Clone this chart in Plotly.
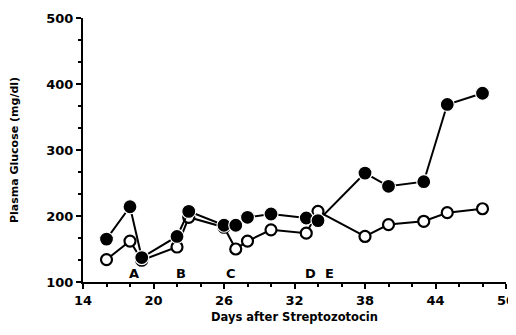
import plotly.graph_objects as go

# Data
days = [16, 18, 19, 22, 23, 26, 27, 28, 30, 33, 34, 38, 40, 43, 45, 48]
glucose_filled = [165, 214, 137, 169, 207, 186, 186, 198, 203, 197, 193, 265, 245, 252, 369, 386]
glucose_open = [134, 162, 133, 153, 198, 183, 150, 162, 179, 174, 207, 169, 187, 192, 205, 211]

event_labels = ["A", "B", "C", "D", "E"]
event_days = [18.3, 22.3, 26.6, 33.4, 35.0]
event_level = 113

x_ticks = [14, 20, 26, 32, 38, 44, 50]
y_ticks = [100, 200, 300, 400, 500]

FONT = "DejaVu Sans"
BLACK = "#000000"

fig = go.Figure()

fig.add_trace(go.Scatter(
    x=days, y=glucose_open, mode="lines+markers",
    line=dict(color=BLACK, width=2),
    marker=dict(symbol="circle", size=11, color="white",
                line=dict(color=BLACK, width=2.2)),
    showlegend=False,
))
fig.add_trace(go.Scatter(
    x=days, y=glucose_filled, mode="lines+markers",
    line=dict(color=BLACK, width=2),
    marker=dict(symbol="circle", size=14, color=BLACK,
                line=dict(color="white", width=1.2)),
    showlegend=False,
))

for lab, xd in zip(event_labels, event_days):
    fig.add_annotation(x=xd, y=event_level, text=lab, showarrow=False,
                       font=dict(family=FONT, size=13, color=BLACK, weight="bold"))

fig.update_layout(
    width=516, height=335,
    margin=dict(l=75, r=17.5, t=9.5, b=60.5),
    paper_bgcolor="white", plot_bgcolor="white",
    font=dict(family=FONT, color=BLACK, weight="bold"),
    xaxis=dict(
        range=[14, 50], tickvals=x_ticks, ticktext=[str(v) for v in x_ticks],
        automargin=False, ticklabeloverflow="allow",
        showgrid=False, zeroline=False,
        showline=True, linecolor=BLACK, linewidth=2,
        ticks="outside", ticklen=5, tickwidth=2, tickcolor=BLACK,
        minor=dict(dtick=2, tick0=14, ticks="outside", ticklen=3, tickwidth=2,
                   tickcolor=BLACK, showgrid=False),
        tickfont=dict(family=FONT, size=13, color=BLACK, weight="bold"),
        title=dict(text="Days after Streptozotocin", standoff=6,
                   font=dict(family=FONT, size=11.5, color=BLACK, weight="bold")),
    ),
    yaxis=dict(
        range=[100, 500], tickvals=y_ticks, ticktext=[str(v) for v in y_ticks],
        automargin=False,
        showgrid=False, zeroline=False,
        showline=True, linecolor=BLACK, linewidth=2,
        ticks="outside", ticklen=5, tickwidth=2, tickcolor=BLACK,
        minor=dict(dtick=100/3, tick0=100, ticks="outside", ticklen=3, tickwidth=2,
                   tickcolor=BLACK, showgrid=False),
        tickfont=dict(family=FONT, size=13, color=BLACK, weight="bold"),
        title=dict(text="Plasma Glucose (mg/dl)", standoff=30,
                   font=dict(family=FONT, size=11, color=BLACK, weight="bold")),
    ),
)

fig.write_html("out.html")
